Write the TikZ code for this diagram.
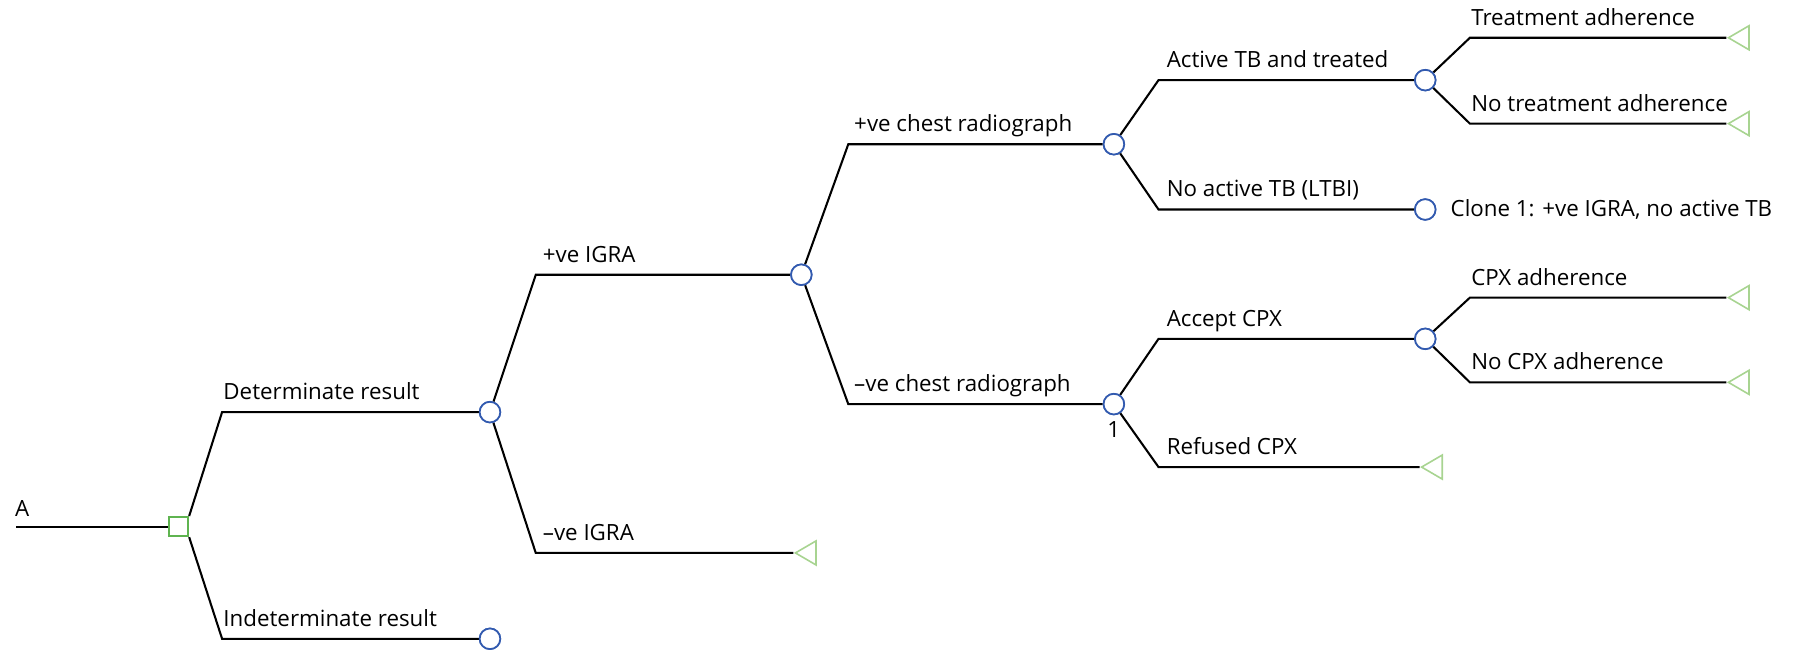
\documentclass[tikz,border=0pt]{standalone}
\usepackage{fontspec}
\setmainfont{Open Sans}
\usetikzlibrary{shapes.geometric}
\definecolor{chanceblue}{RGB}{50,90,175}
\definecolor{decgreen}{RGB}{95,180,80}
\definecolor{termgreen}{RGB}{168,212,145}
\tikzset{
  chance/.style={circle,draw=chanceblue,line width=1.5pt,minimum size=18pt,inner sep=0pt,fill=white},
  decision/.style={rectangle,draw=decgreen,line width=1.5pt,minimum size=17pt,inner sep=0pt,fill=white},
  term/.style={isosceles triangle,draw=termgreen,line width=1.4pt,shape border rotate=180,
    isosceles triangle stretches,minimum width=21pt,minimum height=18pt,inner sep=0pt,anchor=apex},
  branch/.style={line width=1.8pt,black,line join=miter},
  lbl/.style={anchor=base west,inner sep=0pt,font=\fontsize{19.5}{22}\selectfont}
}
\begin{document}
\begin{tikzpicture}[x=1pt,y=-1pt]
\useasboundingbox (0,0) rectangle (1568,567);
% nodes
\coordinate (root) at (14,460);
\node[decision] (sq) at (156,460) {};
\node[chance] (cD) at (428,360) {};
\node[chance] (cI) at (428,558) {};
\node[chance] (cPI) at (700,240) {};
\node[term] (tNI) at (693,483) {};
\node[chance] (cPC) at (973,126) {};
\node[chance] (cNC) at (973,353) {};
\node[chance] (cAT) at (1245,70) {};
\node[chance] (cLT) at (1245,183) {};
\node[chance] (cAC) at (1245,296) {};
\node[term] (tRC) at (1240,408) {};
\node[term] (tTA) at (1508,33) {};
\node[term] (tNT) at (1508,108) {};
\node[term] (tCA) at (1508,260) {};
\node[term] (tNC) at (1508,334) {};
% corners
\coordinate (kD) at (194,360);
\coordinate (kI) at (194,558);
\coordinate (kPI) at (468,240);
\coordinate (kNI) at (468,483);
\coordinate (kPC) at (741,126);
\coordinate (kNC) at (741,353);
\coordinate (kAT) at (1012,70);
\coordinate (kLT) at (1012,183);
\coordinate (kAC) at (1012,296);
\coordinate (kRC) at (1012,408);
\coordinate (kTA) at (1284,33);
\coordinate (kNT) at (1284,108);
\coordinate (kCA) at (1284,260);
\coordinate (kNCA) at (1284,334);
% connectors
\draw[branch] (root) -- (sq.west);
\draw[branch] (sq.north east) -- (kD) -- (cD);
\draw[branch] (sq.south east) -- (kI) -- (cI);
\draw[branch] (cD) -- (kPI) -- (cPI);
\draw[branch] (cD) -- (kNI) -- (tNI.apex);
\draw[branch] (cPI) -- (kPC) -- (cPC);
\draw[branch] (cPI) -- (kNC) -- (cNC);
\draw[branch] (cPC) -- (kAT) -- (cAT);
\draw[branch] (cPC) -- (kLT) -- (cLT);
\draw[branch] (cNC) -- (kAC) -- (cAC);
\draw[branch] (cNC) -- (kRC) -- (tRC.apex);
\draw[branch] (cAT) -- (kTA) -- (tTA.apex);
\draw[branch] (cAT) -- (kNT) -- (tNT.apex);
\draw[branch] (cAC) -- (kCA) -- (tCA.apex);
\draw[branch] (cAC) -- (kNCA) -- (tNC.apex);
% redraw nodes on top
\foreach \n in {cD,cI,cPI,cPC,cNC,cAT,cLT,cAC}{\node[chance] at (\n) {};}
\node[decision] at (sq) {};
% labels
\node[lbl] (lA) at ([xshift=-1pt,yshift=9pt]root) {A};
\node[lbl] (lD) at ([xshift=1pt,yshift=11pt]kD) {Determinate result};
\node[lbl] (lI) at ([xshift=1pt,yshift=11pt]kI) {Indeterminate result};
\node[lbl] (lPI) at ([xshift=6pt,yshift=11pt]kPI) {+ve IGRA};
\node[lbl] (lNI) at ([xshift=6pt,yshift=11pt]kNI) {–ve IGRA};
\node[lbl] (lPC) at ([xshift=5pt,yshift=11pt]kPC) {+ve chest radiograph};
\node[lbl] (lNC) at ([xshift=5pt,yshift=11pt]kNC) {–ve chest radiograph};
\node[lbl] (lAT) at ([xshift=7pt,yshift=11pt]kAT) {Active TB and treated};
\node[lbl] (lLT) at ([xshift=7pt,yshift=11pt]kLT) {No active TB (LTBI)};
\node[lbl] (lAC) at ([xshift=7pt,yshift=11pt]kAC) {Accept CPX};
\node[lbl] (lRC) at ([xshift=7pt,yshift=11pt]kRC) {Refused CPX};
\node[lbl] (lTA) at ([xshift=1pt,yshift=11pt]kTA) {Treatment adherence};
\node[lbl] (lNT) at ([xshift=1pt,yshift=11pt]kNT) {No treatment adherence};
\node[lbl] (lCA) at ([xshift=1pt,yshift=11pt]kCA) {CPX adherence};
\node[lbl] (lNCA) at ([xshift=1pt,yshift=11pt]kNCA) {No CPX adherence};
\node[lbl,anchor=west] (lclone) at ([xshift=22pt]cLT.center) {Clone 1: +ve IGRA, no active TB};
\node[lbl,anchor=north] (lone) at ([yshift=-15pt]cNC.center) {1};
\end{tikzpicture}
\end{document}
